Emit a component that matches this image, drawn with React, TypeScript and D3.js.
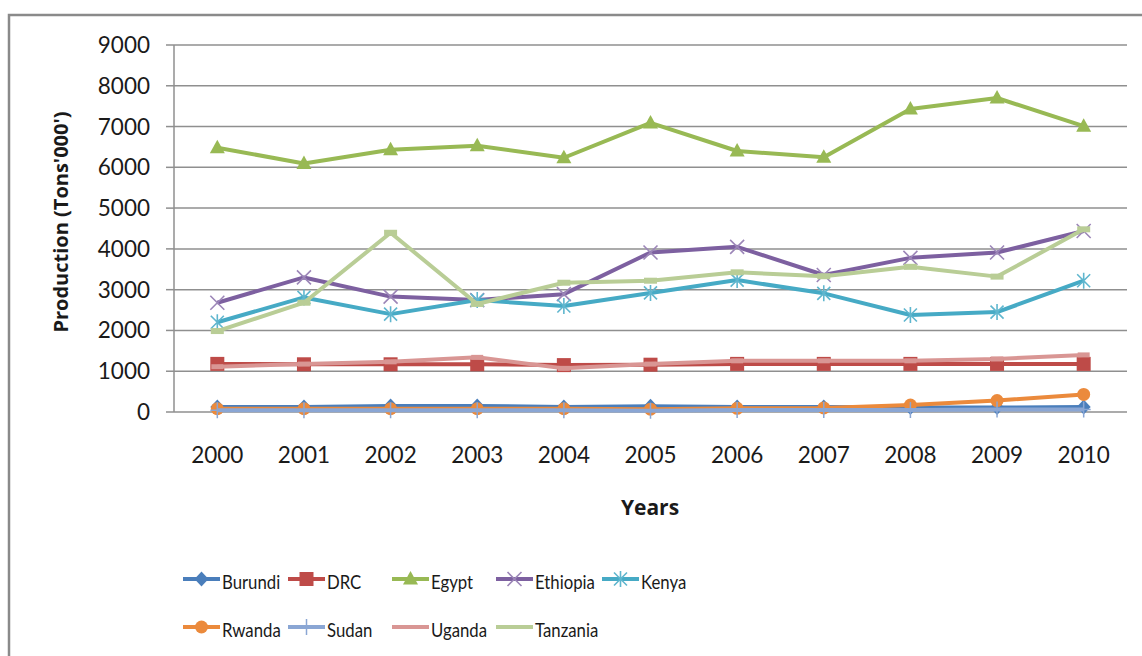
import React from "react";
import * as d3 from "d3";

// Production by country, 2000–2010 (thousand tons)
const years = ["2000", "2001", "2002", "2003", "2004", "2005", "2006", "2007", "2008", "2009", "2010"];

const burundi = [120, 125, 150, 150, 120, 140, 120, 120, 110, 110, 120];
const drc = [1180, 1170, 1170, 1170, 1150, 1160, 1180, 1180, 1180, 1180, 1180];
const egypt = [6480, 6095, 6430, 6530, 6235, 7090, 6400, 6250, 7430, 7700, 7010];
const ethiopia = [2680, 3300, 2830, 2745, 2890, 3910, 4050, 3360, 3780, 3910, 4440];
const kenya = [2200, 2810, 2400, 2745, 2600, 2920, 3235, 2910, 2380, 2450, 3220];
const rwanda = [80, 80, 80, 80, 80, 70, 90, 100, 170, 280, 430];
const sudan = [40, 40, 40, 40, 40, 30, 50, 50, 50, 60, 60];
const uganda = [1110, 1175, 1230, 1340, 1070, 1175, 1255, 1255, 1255, 1300, 1400];
const tanzania = [1985, 2680, 4395, 2650, 3170, 3220, 3425, 3330, 3560, 3320, 4480];

const yTicks = [0, 1000, 2000, 3000, 4000, 5000, 6000, 7000, 8000, 9000];

type Marker = "diamond" | "square" | "triangle" | "x" | "star" | "circle" | "plus" | "dash" | "dash2";

const series: { name: string; values: number[]; color: string; markerColor: string; marker: Marker }[] = [
  { name: "Burundi", values: burundi, color: "#4A7EBB", markerColor: "#4A7EBB", marker: "diamond" },
  { name: "DRC", values: drc, color: "#BE4B48", markerColor: "#BE4B48", marker: "square" },
  { name: "Egypt", values: egypt, color: "#98B954", markerColor: "#98B954", marker: "triangle" },
  { name: "Ethiopia", values: ethiopia, color: "#7D60A0", markerColor: "#9C86B8", marker: "x" },
  { name: "Kenya", values: kenya, color: "#46AAC5", markerColor: "#5FB6CE", marker: "star" },
  { name: "Rwanda", values: rwanda, color: "#EB8A3C", markerColor: "#EB8A3C", marker: "circle" },
  { name: "Sudan", values: sudan, color: "#8AA6D4", markerColor: "#8AA6D4", marker: "plus" },
  { name: "Uganda", values: uganda, color: "#D99694", markerColor: "#D99694", marker: "dash" },
  { name: "Tanzania", values: tanzania, color: "#B9CD96", markerColor: "#B9CD96", marker: "dash2" },
];

const W = 1142;
const H = 656;
const plot = { left: 174, right: 1127, top: 45, bottom: 412 };

const FONT = "Lato, 'Open Sans', sans-serif";
const TITLE_FONT = "'Open Sans', Lato, sans-serif";

function MarkerShape({ kind, x, y, color }: { kind: Marker; x: number; y: number; color: string }) {
  switch (kind) {
    case "diamond":
      return <path d={`M${x},${y - 7.5}L${x + 7},${y}L${x},${y + 7.5}L${x - 7},${y}Z`} fill={color} />;
    case "square":
      return <rect x={x - 7} y={y - 7} width={14} height={14} fill={color} />;
    case "triangle":
      return <path d={`M${x},${y - 8}L${x + 7.5},${y + 5.5}L${x - 7.5},${y + 5.5}Z`} fill={color} />;
    case "x":
      return (
        <path d={`M${x - 7},${y - 7}L${x + 7},${y + 7}M${x - 7},${y + 7}L${x + 7},${y - 7}`} stroke={color} strokeWidth={1.6} />
      );
    case "star":
      return (
        <path
          d={`M${x - 6.5},${y - 6.5}L${x + 6.5},${y + 6.5}M${x - 6.5},${y + 6.5}L${x + 6.5},${y - 6.5}M${x},${y - 8}L${x},${y + 8}`}
          stroke={color}
          strokeWidth={1.6}
        />
      );
    case "circle":
      return <circle cx={x} cy={y} r={6.5} fill={color} />;
    case "plus":
      return <path d={`M${x - 7},${y}L${x + 7},${y}M${x},${y - 8}L${x},${y + 8}`} stroke={color} strokeWidth={1.5} />;
    case "dash":
      return <rect x={x - 6} y={y - 2.5} width={12} height={5} fill={color} />;
    case "dash2":
      return <rect x={x - 6.5} y={y - 3} width={13} height={6} fill={color} />;
  }
  return null;
}

export default function App() {
  const x = d3.scaleBand<string>().domain(years).range([plot.left, plot.right]);
  const y = d3.scaleLinear().domain([0, 9000]).range([plot.bottom, plot.top]);
  const cx = (yr: string) => (x(yr) as number) + x.bandwidth() / 2;

  const line = d3
    .line<number>()
    .x((_, i) => cx(years[i]))
    .y((v) => y(v));

  const legendCols = [183, 288, 392, 496, 602];
  const legendRows = [579, 627];
  const legendLen = 37;

  return (
    <svg
      width={W}
      height={H}
      style={{ position: "absolute", left: 0, top: 0, background: "#fff" }}
      fontFamily={FONT}
    >
      <rect x={0} y={0} width={W} height={H} fill="#fff" />
      {/* chart frame */}
      <rect x={9} y={15} width={W + 20} height={H + 40} fill="none" stroke="#8a8a8a" strokeWidth={2.5} />

      {/* horizontal gridlines and y ticks */}
      {yTicks.map((t) => (
        <g key={t}>
          <line x1={plot.left} x2={plot.right} y1={y(t)} y2={y(t)} stroke="#8f8f8f" strokeWidth={1.5} />
          <line x1={166} x2={plot.left} y1={y(t)} y2={y(t)} stroke="#8f8f8f" strokeWidth={1.5} />
          <text x={150} y={y(t) + 8} textAnchor="end" fontSize={22.5} fill="#1a1a1a">
            {t}
          </text>
        </g>
      ))}
      {/* y axis line */}
      <line x1={plot.left} x2={plot.left} y1={plot.top} y2={plot.bottom} stroke="#8f8f8f" strokeWidth={1.5} />

      {/* x labels */}
      {years.map((yr) => (
        <text key={yr} x={cx(yr)} y={463} textAnchor="middle" fontSize={22.5} fill="#1a1a1a">
          {yr}
        </text>
      ))}

      {/* axis titles */}
      <text
        transform={`translate(68,222) rotate(-90)`}
        textAnchor="middle"
        fontSize={20}
        fontWeight="bold"
        fontFamily={TITLE_FONT}
        fill="#1a1a1a"
      >
        Production (Tons'000')
      </text>
      <text x={650} y={515} textAnchor="middle" fontSize={21} fontWeight="bold" fontFamily={TITLE_FONT} fill="#1a1a1a">
        Years
      </text>

      {/* series */}
      {series.map((s) => (
        <g key={s.name}>
          <path d={line(s.values) || ""} fill="none" stroke={s.color} strokeWidth={4} strokeLinejoin="round" />
          {s.values.map((v, i) => (
            <MarkerShape key={i} kind={s.marker} x={cx(years[i])} y={y(v)} color={s.markerColor} />
          ))}
        </g>
      ))}

      {/* legend */}
      {series.map((s, i) => {
        const row = i < 5 ? 0 : 1;
        const col = i < 5 ? i : i - 5;
        const lx = legendCols[col];
        const ly = legendRows[row];
        return (
          <g key={s.name}>
            <line x1={lx} x2={lx + legendLen} y1={ly} y2={ly} stroke={s.color} strokeWidth={4} />
            {s.marker !== "dash" && s.marker !== "dash2" && (
              <MarkerShape kind={s.marker} x={lx + legendLen / 2} y={ly} color={s.markerColor} />
            )}
            <text
              transform={`translate(${lx + legendLen + 2},${ly + 9.5}) scale(0.86,1)`}
              fontSize={19.5}
              fill="#1a1a1a"
            >
              {s.name}
            </text>
          </g>
        );
      })}
    </svg>
  );
}
